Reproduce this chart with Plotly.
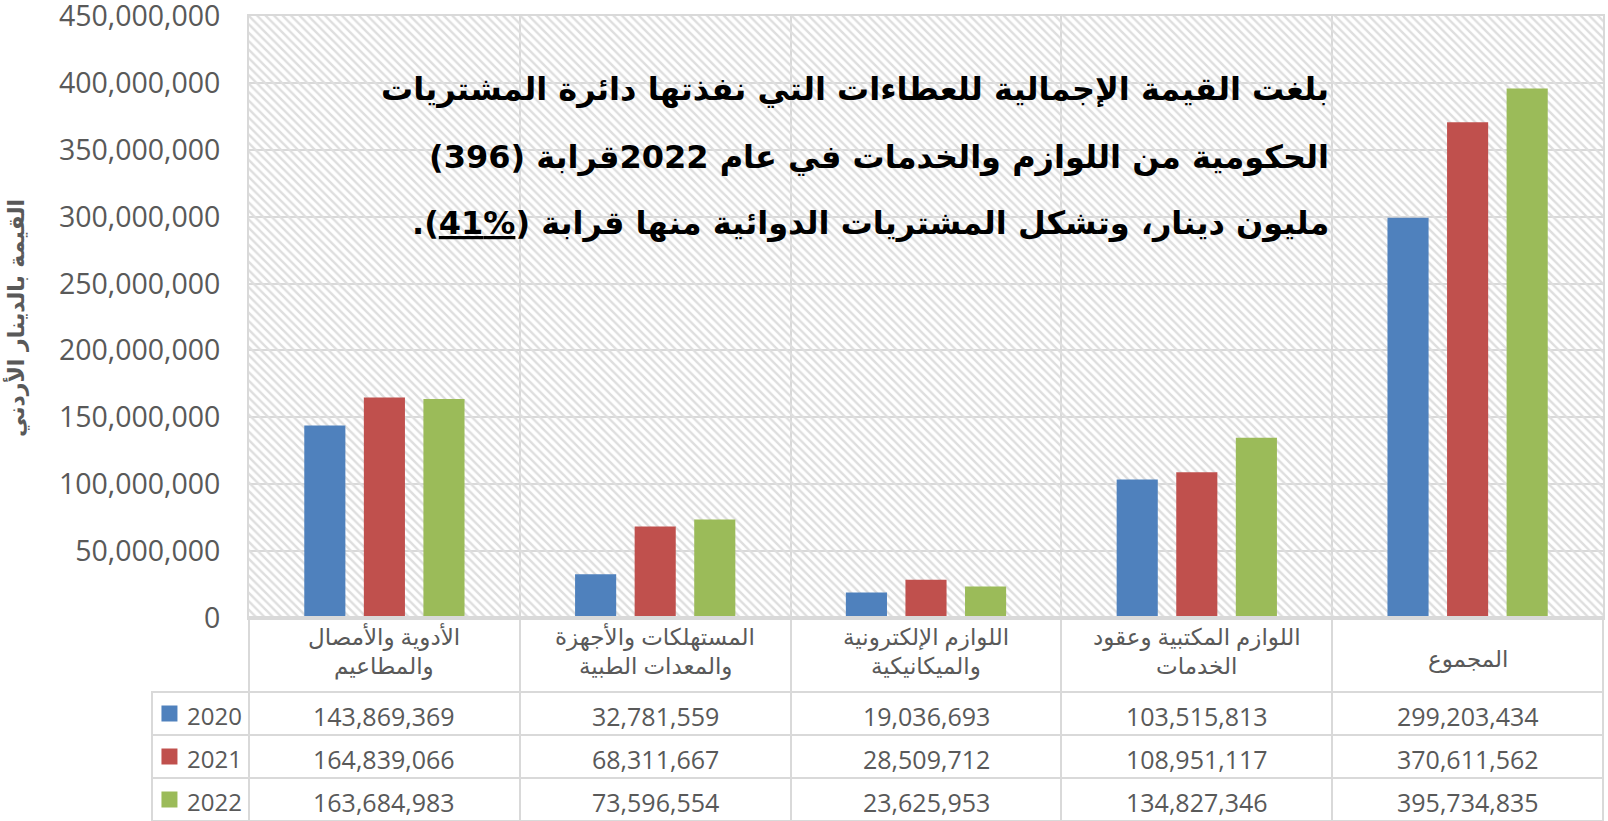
import plotly.graph_objects as go

# ---------------- data ----------------
categories = [
    "الأدوية والأمصال والمطاعيم",
    "المستهلكات والأجهزة والمعدات الطبية",
    "اللوازم الإلكترونية والميكانيكية",
    "اللوازم المكتبية وعقود الخدمات",
    "المجموع",
]
category_lines = [
    ["الأدوية والأمصال", "والمطاعيم"],
    ["المستهلكات والأجهزة", "والمعدات الطبية"],
    ["اللوازم الإلكترونية", "والميكانيكية"],
    ["اللوازم المكتبية وعقود", "الخدمات"],
    ["المجموع"],
]
years = ["2020", "2021", "2022"]
values_2020 = [143869369, 32781559, 19036693, 103515813, 299203434]
values_2021 = [164839066, 68311667, 28509712, 108951117, 370611562]
values_2022 = [163684983, 73596554, 23625953, 134827346, 395734835]
series = [values_2020, values_2021, values_2022]
colors = ["#4F81BD", "#C0504D", "#9BBB59"]
y_ticks = [0, 50000000, 100000000, 150000000, 200000000, 250000000,
           300000000, 350000000, 400000000, 450000000]

y_title = "القيمة بالدينار الأردني"
RLE, PDF = "\u202b", "\u202c"
title_lines = [
    "بلغت القيمة الإجمالية للعطاءات التي نفذتها دائرة المشتريات",
    "الحكومية من اللوازم والخدمات في عام 2022قرابة (396)",
    "مليون دينار، وتشكل المشتريات الدوائية منها قرابة (<span style='text-decoration:underline'>%41</span>).",
]

# ---------------- layout geometry (px) ----------------
W, H = 1608, 821
plot_left, plot_right, plot_top, plot_bottom = 249, 1603, 16, 618
table_left = 152
header_h, row_h = 75, 43
grid = "#d9d9d9"
txt = "#595959"
table_top = H - (header_h + 3 * row_h)

xd = [plot_left / W, plot_right / W]
yd = [(H - plot_bottom) / H, (H - plot_top) / H]

fig = go.Figure()

# hatched plot-area background
fig.add_trace(go.Bar(
    x=[0.5], y=[1], width=[1], xaxis="x", yaxis="y",
    marker=dict(color="rgba(0,0,0,0)", line=dict(width=0),
                pattern=dict(shape="\\", fgcolor="#dedede", bgcolor="rgba(0,0,0,0)",
                             size=6, solidity=0.4)),
    hoverinfo="skip", showlegend=False,
))

for name, vals, col in zip(years, series, colors):
    fig.add_trace(go.Bar(
        x=categories, y=vals, name=name, xaxis="x2", yaxis="y2",
        marker=dict(color=col, line=dict(width=0)), showlegend=False,
        hoverinfo="x+y+name",
    ))

# legend keys of the data table
fig.add_trace(go.Scatter(
    x=[0.18] * len(years), y=years, xaxis="x3", yaxis="y3", mode="markers",
    marker=dict(symbol="square", size=16, color=colors, line=dict(width=0)),
    hoverinfo="skip", showlegend=False,
))

# data-table grid
fig.add_trace(go.Table(
    domain=dict(x=[table_left / W, plot_right / W], y=[0, (H - table_top) / H]),
    columnwidth=[plot_left - table_left] + [(plot_right - plot_left) / 5] * 5,
    header=dict(values=[""] * 6,
                fill=dict(color="rgba(0,0,0,0)"),
                line=dict(color=["rgba(0,0,0,0)"] + [grid] * 5, width=2),
                height=header_h),
    cells=dict(values=[[""] * 3 for _ in range(6)],
               fill=dict(color="rgba(0,0,0,0)"),
               line=dict(color=grid, width=2), height=row_h),
))

fig.update_layout(
    template="none",
    width=W, height=H, margin=dict(l=0, r=0, t=0, b=0, autoexpand=False),
    paper_bgcolor="white", plot_bgcolor="rgba(0,0,0,0)",
    barmode="group", bargap=0.34, bargroupgap=0.31,
    xaxis=dict(domain=xd, range=[0, 1], visible=False, fixedrange=True, automargin=False),
    yaxis=dict(domain=yd, range=[0, 1], visible=False, fixedrange=True, automargin=False),
    xaxis2=dict(overlaying="x", type="category", range=[-0.5, 4.5], automargin=False,
                showgrid=True, tickson="boundaries", gridcolor=grid, gridwidth=1.5,
                showticklabels=False, ticks="", showline=True, mirror=True,
                linecolor=grid, linewidth=2, zeroline=False),
    yaxis2=dict(overlaying="y", range=[0, 450000000], tickvals=y_ticks, automargin=False,
                tickformat=",d", showgrid=True, gridcolor=grid, gridwidth=1.5,
                zeroline=False, showline=True, mirror=True, linecolor=grid, linewidth=2,
                ticks="", ticklabelstandoff=21, ticklabeloverflow="allow",
                tickfont=dict(family="Open Sans", size=28.5, color=txt)),
    xaxis3=dict(domain=[table_left / W, plot_left / W], range=[0, 1], visible=False,
                fixedrange=True, automargin=False),
    yaxis3=dict(domain=[0, (H - table_top - header_h) / H], type="category",
                categoryorder="array", categoryarray=years,
                range=[len(years) - 0.5, -0.5], visible=False, fixedrange=True,
                automargin=False),
)

# category labels of the data table header (one text per line)
line_offsets = {1: [41], 2: [19, 48]}
for cat, lines in zip(categories, category_lines):
    for line, off in zip(lines, line_offsets[len(lines)]):
        fig.add_annotation(
            text=line, xref="x2", yref="paper", x=cat, y=(H - table_top - off) / H,
            xanchor="center", yanchor="middle", showarrow=False,
            font=dict(family="Open Sans, DejaVu Sans", size=23, color=txt),
        )

# year labels of the data table (row index on the category axis y3)
for k, yr in enumerate(years):
    fig.add_annotation(
        text=yr, xref="x3", yref="y3", x=0.945, y=k, xanchor="right", yanchor="middle",
        yshift=-2, showarrow=False,
        font=dict(family="Open Sans", size=24, color=txt),
    )

# values of the data table
for k, yr in enumerate(years):
    for i, cat in enumerate(categories):
        fig.add_annotation(
            text=f"{series[k][i]:,}", xref="x2", yref="y3", x=i, y=k,
            xanchor="center", yanchor="middle", yshift=-2, showarrow=False,
            font=dict(family="Open Sans", size=25, color=txt),
        )

title_y = [89, 157, 223]
for line, yy in zip(title_lines, title_y):
    fig.add_annotation(
        text="<b>" + RLE + line + PDF + "</b>", xref="paper", yref="paper",
        x=1331 / W, y=(H - yy) / H, xanchor="right", yanchor="middle",
        showarrow=False, font=dict(family="DejaVu Sans", size=32, color="black"),
    )

fig.add_annotation(
    text="<b>" + y_title + "</b>", xref="paper", yref="paper",
    x=16 / W, y=(H - 318) / H, xanchor="center", yanchor="middle", textangle=-90,
    showarrow=False, font=dict(family="DejaVu Sans", size=22, color=txt),
)

fig.write_html("out.html", config={"displayModeBar": False},
               post_script="document.body.style.margin='0';")
